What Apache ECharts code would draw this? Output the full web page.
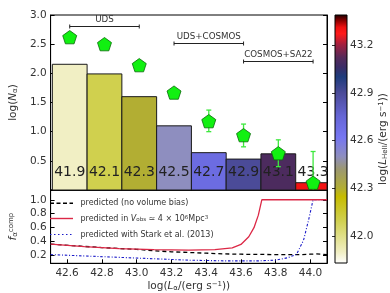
<!DOCTYPE html>
<html><head><meta charset="utf-8">
<script src="https://cdn.jsdelivr.net/npm/echarts@6/dist/echarts.min.js"></script>
<style>html,body{margin:0;padding:0;background:#fff}#c{width:390px;height:293px}</style>
</head><body><div id="c"></div>
<script>
// ---------- data ----------
const binCenters = [42.615, 42.815, 43.015, 43.215, 43.415, 43.615, 43.815, 44.015];
const binWidth = 0.2;
const logN = [2.155, 1.99, 1.60, 1.10, 0.64, 0.53, 0.62, 0.125];
const heValues = [41.9, 42.1, 42.3, 42.5, 42.7, 42.9, 43.1, 43.3];
const heLabels = ['41.9', '42.1', '42.3', '42.5', '42.7', '42.9', '43.1', '43.3'];
const predN = [2.62, 2.50, 2.14, 1.67, 1.18, 0.94, 0.63, 0.125];
const predLo = [null, null, null, null, 1.00, 0.74, 0.40, 0.0];
const predHi = [null, null, null, null, 1.37, 1.13, 0.86, 0.66];

const fieldNames = ['UDS', 'UDS+COSMOS', 'COSMOS+SA22'];
const fieldStart = [42.615, 43.215, 43.615];
const fieldEnd = [43.015, 43.615, 44.015];
const fieldLevel = [2.82, 2.515, 2.205];

const noBiasX = [42.505, 42.8, 43.0, 43.1, 43.2, 43.3, 43.4, 43.5, 43.6, 43.8, 43.95, 44.0, 44.03, 44.095];
const noBiasY = [0.365, 0.315, 0.29, 0.27, 0.255, 0.245, 0.235, 0.225, 0.22, 0.215, 0.215, 0.22, 0.225, 0.215];
const vobsX = [42.505, 42.7, 42.9, 43.1, 43.3, 43.45, 43.55, 43.6, 43.645, 43.675, 43.70, 43.72, 44.095];
const vobsY = [0.365, 0.33, 0.30, 0.285, 0.28, 0.285, 0.31, 0.36, 0.47, 0.60, 0.78, 1.0, 1.0];
const starkX = [42.505, 42.7, 42.9, 43.1, 43.3, 43.5, 43.7, 43.8, 43.87, 43.92, 43.96, 43.99, 44.015, 44.095];
const starkY = [0.215, 0.195, 0.175, 0.155, 0.135, 0.125, 0.125, 0.135, 0.17, 0.22, 0.42, 0.72, 1.0, 1.0];

const legendTexts = [
  'predicted (no volume bias)',
  'predicted in {li|V}{ls|obs} ≃ 4 × 10{lp|6}Mpc{lp|3}',
  'predicted with Stark et al. (2013)'
];

const lumTicks = [42.6, 42.8, 43.0, 43.2, 43.4, 43.6, 43.8, 44.0];
const topTicks = [0.5, 1.0, 1.5, 2.0, 2.5, 3.0];
const botTicks = [0.2, 0.4, 0.6, 0.8, 1.0];
const cbTicks = [42.0, 42.3, 42.6, 42.9, 43.2];
const cbMin = 41.83, cbMax = 43.39;

// ---------- colormap ----------
const cmap = [
  [41.83, '#ffffff'], [41.90, '#f1efc4'], [42.10, '#d0d04e'], [42.25, '#c6bc00'],
  [42.30, '#b2ae33'], [42.42, '#9c9870'], [42.50, '#8e8ebf'], [42.62, '#7676f2'],
  [42.75, '#6666d6'], [42.90, '#4b4b98'], [43.00, '#1e3c7c'], [43.06, '#3a2c66'],
  [43.12, '#552a5a'], [43.20, '#a02040'], [43.27, '#ff1a1a'], [43.31, '#ee1111'],
  [43.35, '#900000'], [43.39, '#1a0000']
];
function hex2rgb(h){return [parseInt(h.substr(1,2),16),parseInt(h.substr(3,2),16),parseInt(h.substr(5,2),16)];}
function colorFor(v){
  if (v <= cmap[0][0]) return cmap[0][1];
  for (let i = 1; i < cmap.length; i++) {
    if (v <= cmap[i][0]) {
      const t = (v - cmap[i-1][0]) / (cmap[i][0] - cmap[i-1][0]);
      const a = hex2rgb(cmap[i-1][1]), b = hex2rgb(cmap[i][1]);
      const c = a.map((x, k) => Math.round(x + (b[k] - x) * t));
      return 'rgb(' + c.join(',') + ')';
    }
  }
  return cmap[cmap.length-1][1];
}

const FONT = 'DejaVu Sans';
const TXT = '#333';
const richCommon = {
  i: {fontStyle: 'italic', fontFamily: FONT, fontSize: 10.5, color: TXT},
  sub: {fontSize: 7, fontFamily: FONT, color: TXT, verticalAlign: 'bottom', lineHeight: 8},
  sup: {fontSize: 7, fontFamily: FONT, color: TXT, verticalAlign: 'top', lineHeight: 8}
};
const legendRich = {
  li: {fontSize: 8, fontStyle: 'italic', fill: TXT, fontFamily: FONT},
  ls: {fontSize: 5.5, fill: TXT, fontFamily: FONT, verticalAlign: 'bottom', lineHeight: 6},
  lp: {fontSize: 5.5, fill: TXT, fontFamily: FONT, verticalAlign: 'top', lineHeight: 6}
};
const legendLineStyles = [
  {stroke: '#000', lineWidth: 1.4, lineDash: [4, 2.5]},
  {stroke: '#dc2846', lineWidth: 1.4},
  {stroke: '#1a1ac8', lineWidth: 1.1, lineDash: [1.5, 2.5]}
];
const legendRowY = [203.3, 218.5, 234.5];

const chart = echarts.init(document.getElementById('c'), null, {renderer: 'canvas'});

const barData = binCenters.map((c, i) => [c, logN[i], heValues[i]]);
const errData = binCenters.map((c, i) => [c, predLo[i], predHi[i]]).filter(d => d[1] !== null);
const fieldData = fieldNames.map((n, i) => [fieldStart[i], fieldEnd[i], fieldLevel[i]]);

function tickAxis(extra){
  return Object.assign({
    axisLine: {show: true, lineStyle: {color: '#000', width: 1}},
    splitLine: {show: false}
  }, extra);
}

const legendGraphics = [];
legendTexts.forEach((t, i) => {
  legendGraphics.push({type: 'line', z: 100, shape: {x1: 50, y1: legendRowY[i], x2: 73, y2: legendRowY[i]}, style: legendLineStyles[i]});
  legendGraphics.push({type: 'text', z: 100, x: 80.5, y: legendRowY[i],
    style: {text: t, font: '8px "DejaVu Sans"', fill: TXT, verticalAlign: 'middle', align: 'left', rich: legendRich}});
});

const option = {
  animation: false,
  backgroundColor: '#fff',
  textStyle: {fontFamily: FONT},
  graphic: legendGraphics,
  grid: [
    {left: 43, top: 15, width: 284, height: 175, show: true, borderColor: '#000', borderWidth: 1, backgroundColor: 'transparent'},
    {left: 43, top: 190, width: 284, height: 73.3, show: true, borderColor: '#000', borderWidth: 1, backgroundColor: 'transparent'},
    {left: 335, top: 15, width: 12, height: 248, show: false}
  ],
  xAxis: [
    tickAxis({type: 'value', gridIndex: 0, min: 42.505, max: 44.095,
      axisLabel: {show: false},
      axisTick: {show: true, inside: true, length: 4, customValues: lumTicks, lineStyle: {color: '#000'}}}),
    tickAxis({type: 'value', gridIndex: 1, min: 42.505, max: 44.095,
      axisLabel: {show: true, customValues: lumTicks, formatter: v => v.toFixed(1), fontSize: 10.5, color: TXT, fontFamily: FONT, margin: 4},
      axisTick: {show: true, inside: true, length: 4, customValues: lumTicks, lineStyle: {color: '#000'}},
      name: 'log({i|L}{sub|α}/(erg s{sup|−1}))', nameLocation: 'middle', nameGap: 17,
      nameTextStyle: {fontSize: 10.5, color: TXT, fontFamily: FONT, rich: richCommon}}),
    {type: 'value', gridIndex: 2, min: 0, max: 1, show: false}
  ],
  yAxis: [
    tickAxis({type: 'value', gridIndex: 0, min: 0, max: 3,
      axisLabel: {show: true, customValues: topTicks, formatter: v => v.toFixed(1), fontSize: 10.5, color: TXT, fontFamily: FONT, margin: 4},
      axisTick: {show: true, inside: true, length: 4, customValues: topTicks, lineStyle: {color: '#000'}},
      name: 'log({i|N}{sub|α})', nameLocation: 'middle', nameRotate: 90, nameGap: 26,
      nameTextStyle: {fontSize: 10.5, color: TXT, fontFamily: FONT, rich: richCommon}}),
    tickAxis({type: 'value', gridIndex: 0, min: 0, max: 3, position: 'right',
      axisLabel: {show: false},
      axisTick: {show: true, inside: true, length: 4, customValues: topTicks, lineStyle: {color: '#000'}}}),
    tickAxis({type: 'value', gridIndex: 1, min: 0.09, max: 1.14,
      axisLabel: {show: true, customValues: botTicks, formatter: v => v.toFixed(1), fontSize: 10.5, color: TXT, fontFamily: FONT, margin: 4},
      axisTick: {show: true, inside: true, length: 4, customValues: botTicks, lineStyle: {color: '#000'}},
      name: '{i|f}{sub|α}{sup|comp}', nameLocation: 'middle', nameRotate: 90, nameGap: 24,
      nameTextStyle: {fontSize: 10.5, color: TXT, fontFamily: FONT, rich: richCommon}}),
    tickAxis({type: 'value', gridIndex: 1, min: 0.09, max: 1.14, position: 'right',
      axisLabel: {show: false},
      axisTick: {show: true, inside: true, length: 4, customValues: botTicks, lineStyle: {color: '#000'}}}),
    tickAxis({type: 'value', gridIndex: 2, min: cbMin, max: cbMax, position: 'right',
      axisLine: {show: false},
      axisLabel: {show: true, customValues: cbTicks, formatter: v => v.toFixed(1), fontSize: 10.5, color: TXT, fontFamily: FONT, margin: 3},
      axisTick: {show: true, inside: true, length: 3, customValues: cbTicks, lineStyle: {color: '#333'}},
      name: 'log({i|L}{sub|HeII}/(erg s{sup|−1}))', nameLocation: 'middle', nameRotate: 90, nameGap: 31,
      nameTextStyle: {fontSize: 10.5, color: TXT, fontFamily: FONT, rich: richCommon}})
  ],
  series: [
    {
      type: 'custom', xAxisIndex: 0, yAxisIndex: 0, z: 2,
      data: barData,
      renderItem: function(params, api){
        const cs = params.coordSys;
        const c = api.value(0), h = api.value(1), hv = api.value(2);
        const p0 = api.coord([c - binWidth / 2, 0]);
        const p1 = api.coord([c + binWidth / 2, h]);
        const xr = Math.min(p1[0], cs.x + cs.width);
        const xl = Math.max(p0[0], cs.x);
        return {type: 'group', children: [
          {type: 'rect', shape: {x: xl, y: p1[1], width: xr - xl, height: p0[1] - p1[1]},
           style: {fill: colorFor(hv), stroke: '#1a1a1a', lineWidth: 1}},
          {type: 'text', z2: 10, style: {text: heLabels[params.dataIndex], x: (p0[0] + p1[0]) / 2, y: p0[1] - 18,
            align: 'center', verticalAlign: 'middle', font: '14px "DejaVu Sans"', fill: '#222'}}
        ]};
      }
    },
    {
      type: 'custom', xAxisIndex: 0, yAxisIndex: 0, z: 3,
      data: errData,
      renderItem: function(params, api){
        const cs = params.coordSys;
        const x = api.value(0);
        const pl = api.coord([x, api.value(1)]);
        const ph = api.coord([x, api.value(2)]);
        const yl = Math.min(pl[1], cs.y + cs.height);
        const st = {stroke: '#3ee83e', lineWidth: 1.3};
        const children = [
          {type: 'line', shape: {x1: pl[0], y1: yl, x2: ph[0], y2: ph[1]}, style: st},
          {type: 'line', shape: {x1: ph[0] - 2.5, y1: ph[1], x2: ph[0] + 2.5, y2: ph[1]}, style: st}
        ];
        if (pl[1] < cs.y + cs.height - 1) children.push({type: 'line', shape: {x1: pl[0] - 2.5, y1: pl[1], x2: pl[0] + 2.5, y2: pl[1]}, style: st});
        return {type: 'group', children: children};
      }
    },
    {
      type: 'scatter', xAxisIndex: 0, yAxisIndex: 0, z: 4,
      symbol: 'path://M0,-10L9.51,-3.09L5.88,8.09L-5.88,8.09L-9.51,-3.09Z',
      symbolSize: [14, 13.3],
      itemStyle: {color: '#11f011', borderColor: '#0a6a0a', borderWidth: 0.8, opacity: 1},
      data: binCenters.map((c, i) => [c, predN[i]])
    },
    {
      type: 'custom', xAxisIndex: 0, yAxisIndex: 0, z: 3,
      data: fieldData,
      renderItem: function(params, api){
        const a = api.coord([api.value(0), api.value(2)]);
        const b = api.coord([api.value(1), api.value(2)]);
        const y = Math.round(a[1]) + 0.5;
        const st = {stroke: '#222', lineWidth: 1};
        return {type: 'group', children: [
          {type: 'line', shape: {x1: a[0], y1: y, x2: b[0], y2: y}, style: st},
          {type: 'line', shape: {x1: a[0], y1: y - 2, x2: a[0], y2: y + 2}, style: st},
          {type: 'line', shape: {x1: b[0], y1: y - 2, x2: b[0], y2: y + 2}, style: st},
          {type: 'text', style: {text: fieldNames[params.dataIndex], x: (a[0] + b[0]) / 2, y: y - 2.5,
            align: 'center', verticalAlign: 'bottom', font: '8.7px "DejaVu Sans"', fill: '#333'}}
        ]};
      }
    },
    {
      name: 'nobias', type: 'line', xAxisIndex: 1, yAxisIndex: 2, showSymbol: false, symbol: 'none', z: 3,
      lineStyle: {color: '#000', width: 1.3, type: [4, 3]},
      data: noBiasX.map((x, i) => [x, noBiasY[i]])
    },
    {
      name: 'vobs', type: 'line', xAxisIndex: 1, yAxisIndex: 2, showSymbol: false, symbol: 'none', z: 4,
      lineStyle: {color: '#dc2846', width: 1.3, type: 'solid'},
      data: vobsX.map((x, i) => [x, vobsY[i]])
    },
    {
      name: 'stark', type: 'line', xAxisIndex: 1, yAxisIndex: 2, showSymbol: false, symbol: 'none', z: 3,
      lineStyle: {color: '#1a1ac8', width: 1.1, type: [2.5, 1.8, 1, 1.8]},
      data: starkX.map((x, i) => [x, starkY[i]])
    },
    {
      type: 'custom', xAxisIndex: 2, yAxisIndex: 4, z: 2,
      data: [[0, cbMin, 1, cbMax]],
      renderItem: function(params, api){
        const p0 = api.coord([api.value(0), api.value(1)]);
        const p1 = api.coord([api.value(2), api.value(3)]);
        const stops = cmap.map(s => ({offset: (s[0] - cbMin) / (cbMax - cbMin), color: s[1]}));
        return {type: 'rect', shape: {x: p0[0], y: p1[1], width: p1[0] - p0[0], height: p0[1] - p1[1]},
          style: {fill: {type: 'linear', x: 0, y: 1, x2: 0, y2: 0, colorStops: stops, global: false}, stroke: '#000', lineWidth: 1}};
      }
    }
  ]
};
chart.setOption(option);
</script></body></html>
